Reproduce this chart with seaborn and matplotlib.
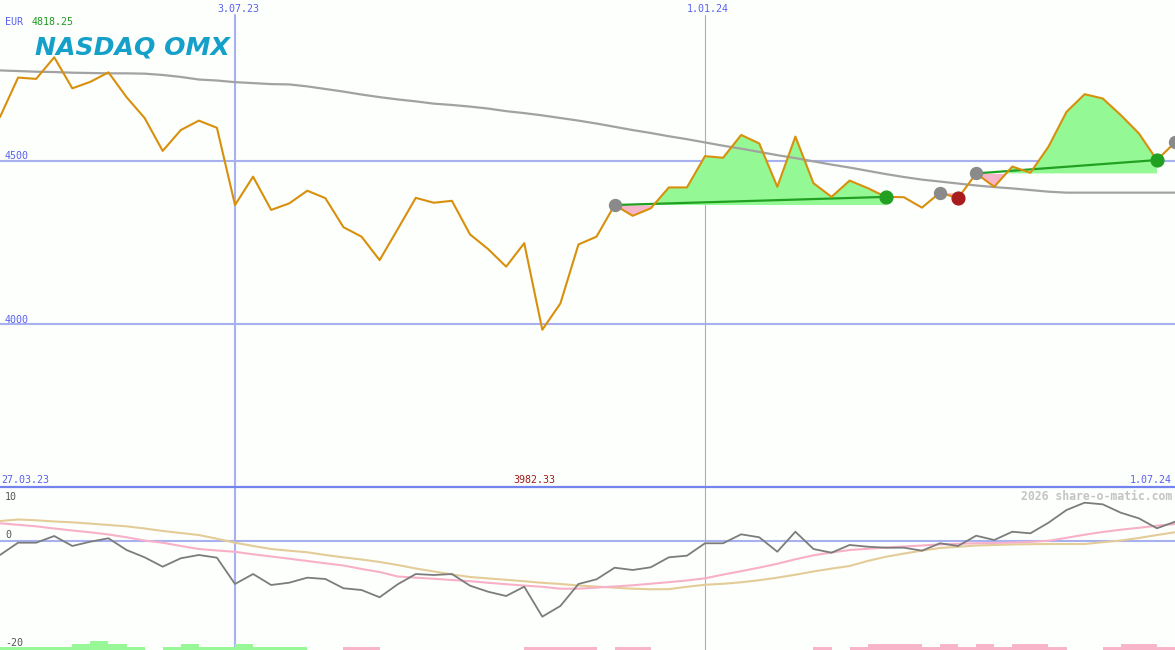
import numpy as np
import pandas as pd
import matplotlib
matplotlib.use("Agg")
import matplotlib.pyplot as plt
import seaborn as sns

# ---------------- data ----------------
weeks = pd.date_range("2023-04-03", periods=66, freq="7D")

price = [4635, 4756, 4752, 4818.25, 4723, 4743, 4772, 4696, 4632, 4531,
         4595, 4624, 4602, 4365, 4452, 4350, 4370, 4409, 4386, 4297,
         4268, 4196, 4291, 4387, 4372, 4378, 4275, 4230, 4176, 4248,
         3982.33, 4063, 4244, 4268, 4365, 4332, 4355, 4419, 4419, 4515,
         4510, 4580, 4554, 4421, 4575, 4432, 4390, 4440, 4417, 4390,
         4389, 4357, 4403, 4386, 4462, 4421, 4483, 4464, 4544, 4651,
         4705, 4692, 4641, 4585, 4503, 4557]

ma200 = [4778, 4776, 4774, 4773, 4771, 4770, 4769, 4769, 4768, 4764,
         4758, 4750, 4747, 4742, 4739, 4736, 4735, 4729, 4721, 4713,
         4704, 4696, 4689, 4683, 4676, 4672, 4667, 4661, 4653, 4647,
         4640, 4632, 4624, 4615, 4605, 4595, 4586, 4576, 4567, 4557,
         4547, 4538, 4528, 4518, 4509, 4499, 4489, 4480, 4470, 4460,
         4451, 4443, 4437, 4431, 4425, 4420, 4416, 4411, 4406, 4403,
         4403, 4403, 4403, 4403, 4403, 4403]

macd = [-2.64, -0.32, -0.32, 0.94, -0.94, -0.13, 0.51, -1.70, -3.08, -4.85,
        -3.26, -2.64, -3.15, -8.11, -6.23, -8.30, -7.87, -6.92, -7.17, -8.92,
        -9.25, -10.62, -8.17, -6.23, -6.42, -6.23, -8.43, -9.57, -10.38, -8.62,
        -14.28, -12.26, -8.11, -7.23, -5.04, -5.47, -4.96, -3.08, -2.77, -0.43,
        -0.43, 1.26, 0.70, -2.02, 1.75, -1.51, -2.21, -0.75, -1.08, -1.26,
        -1.26, -1.83, -0.43, -0.94, 1.00, 0.19, 1.75, 1.45, 3.45, 5.85,
        7.23, 6.92, 5.34, 4.28, 2.40, 3.64]

signal = [3.34, 3.06, 2.77, 2.36, 1.98, 1.64, 1.23, 0.70, 0.09, -0.32,
          -0.94, -1.51, -1.79, -2.04, -2.51, -2.92, -3.34, -3.77, -4.21, -4.62,
          -5.28, -5.85, -6.70, -6.92, -7.13, -7.36, -7.58, -7.89, -8.15, -8.42,
          -8.64, -9.00, -9.00, -8.79, -8.58, -8.36, -8.06, -7.77, -7.45, -7.04,
          -6.34, -5.70, -5.02, -4.30, -3.45, -2.70, -2.17, -1.70, -1.47, -1.25,
          -1.04, -0.85, -0.64, -0.53, -0.43, -0.38, -0.30, -0.17, 0.04, 0.60,
          1.19, 1.70, 2.13, 2.49, 2.89, 3.21]

slow = [3.77, 4.06, 3.91, 3.68, 3.53, 3.28, 3.02, 2.77, 2.36, 1.89,
        1.51, 1.13, 0.43, -0.32, -0.94, -1.51, -1.83, -2.13, -2.64, -3.09,
        -3.49, -3.96, -4.53, -5.19, -5.75, -6.32, -6.79, -7.06, -7.32, -7.60,
        -7.89, -8.11, -8.40, -8.60, -8.81, -9.00, -9.11, -9.09, -8.64, -8.26,
        -8.08, -7.79, -7.40, -6.92, -6.36, -5.75, -5.21, -4.72, -3.77, -2.98,
        -2.38, -1.81, -1.32, -1.09, -0.85, -0.75, -0.66, -0.60, -0.57, -0.57,
        -0.57, -0.23, 0.09, 0.57, 1.13, 1.64]

hist = [0.57, 0.57, 0.57, 0.57, 1.13, 1.70, 1.13, 0.57, 0, 0.57,
        1.13, 0.57, 0.57, 1.13, 0.57, 0.57, 0.57, 0, 0, -0.57,
        -0.57, 0, 0, 0, 0, 0, 0, 0, 0, -0.57,
        -0.57, -0.57, -0.57, 0, -0.57, -0.57, 0, 0, 0, 0,
        0, 0, 0, 0, 0, -0.57, 0, -0.57, -1.13, -1.13,
        -1.13, -0.57, -1.13, -0.57, -1.13, -0.57, -1.13, -1.13, -0.57, 0,
        0, -0.57, -1.13, -1.13, -0.57, 0]

grid_dates = ["2023-07-03", "2024-01-01"]
grid_labels = ["3.07.23", "1.01.24"]
price_grid = [4500, 4000]
price_grid_labels = ["4500", "4000"]
low_labels = ["10", "0", "-20"]
start_label = "27.03.23"
end_label = "1.07.24"
min_label = "3982.33"
currency_label = "EUR"
value_label = "4818.25"
credit_label = "2026 share-o-matic.com"
logo_label = "NASDAQ OMX"

signal_entries = [34, 54]
signal_exits = [49, 64]
failed_signal = [52, 53]
gray_marks = [34, 52, 54, 65]
green_marks = [49, 64]
red_marks = [53]

# ---------------- style ----------------
sns.set_theme(style="white")
plt.rcParams["font.family"] = ["DejaVu Sans Mono", "DejaVu Sans"]

W, H = 1175, 650
BG = "#fcfffc"
GRID = "#a8b0f0"
BLUE_TXT = "#5a60ee"
ORANGE = "#d8900c"

fig = plt.figure(figsize=(W / 100, H / 100), dpi=100, facecolor=BG)
ax = fig.add_axes([0, 163 / H, 1, 487 / H])
axl = fig.add_axes([0, 0, 1, 163 / H])

x0, x1 = weeks[0], weeks[0] + pd.Timedelta(days=7 * 65)
price_s = pd.Series(price, index=weeks)

for a in (ax, axl):
    a.set_facecolor(BG)
    a.set_xlim(x0, x1)
    for s in a.spines.values():
        s.set_visible(False)
    a.set_xticks([])
    a.set_yticks([])

ax.set_ylim(3500, 4994)
low_lo, low_hi = -20.57, 10.19
axl.set_ylim(low_lo, low_hi)

# ---------- upper panel ----------
for v in price_grid:
    ax.axhline(v, color=GRID, lw=1.5, zorder=0.5)
ax.axvline(pd.Timestamp(grid_dates[0]), ymax=(487 - 15) / 487, color=GRID, lw=1.5, zorder=0.5)
ax.axvline(pd.Timestamp(grid_dates[1]), ymax=(487 - 15) / 487, color="#a4aad4", lw=0.8, zorder=0.5)

# signal fills
for a_i, b_i in zip(signal_entries, signal_exits):
    xs = weeks[a_i:b_i + 1]
    ys = np.array(price[a_i:b_i + 1], dtype=float)
    base = price[a_i]
    ax.fill_between(xs, ys, base, where=ys >= base, interpolate=True,
                    color="#94f894", lw=0, zorder=1)
    ax.fill_between(xs, ys, base, where=ys <= base, interpolate=True,
                    color="#f8b4c8", lw=0, zorder=1)
fa, fb = failed_signal
xs = weeks[fa:fb + 1]
ys = np.array(price[fa:fb + 1], dtype=float)
ax.fill_between(xs, ys, price[fa], color="#f8b4c8", lw=0, zorder=1)

sns.lineplot(x=weeks, y=ma200, ax=ax, color="#a2a2a2", lw=1.6, zorder=2)

for a_i, b_i in zip(signal_entries, signal_exits):
    sns.lineplot(x=[weeks[a_i], weeks[b_i]], y=[price[a_i], price[b_i]], ax=ax,
                 color="#22a022", lw=1.6, zorder=3)

sns.lineplot(x=weeks, y=price, ax=ax, color=ORANGE, lw=1.5, zorder=4)

ax.plot(weeks[gray_marks], price_s.iloc[gray_marks], "o", ms=8.6, color="#8a8a8a",
        mec="#8a8a8a", zorder=5, clip_on=False)
ax.plot(weeks[green_marks], price_s.iloc[green_marks], "o", ms=9.2, color="#22a022",
        mec="#22a022", zorder=5)
ax.plot(weeks[red_marks], price_s.iloc[red_marks], "o", ms=9.2, color="#a81c1c",
        mec="#a81c1c", zorder=5)
ax.set_xlim(x0, x1)
ax.set_xlabel("")
ax.set_ylabel("")

# ---------- lower panel ----------
axl.axhline(0, color=GRID, lw=1.5, zorder=0.5)
axl.axvline(pd.Timestamp(grid_dates[0]), color=GRID, lw=1.5, zorder=0.5)
axl.axvline(pd.Timestamp(grid_dates[1]), color="#a4aad4", lw=0.8, zorder=0.5)
axl.axhline(low_hi, color="#7484ee", lw=1.6, zorder=6, clip_on=False)

hist_a = np.array(hist)
bar_cols = ["#98f898" if h > 0 else "#f8b4c8" for h in hist_a]
axl.bar(weeks, np.abs(hist_a), width=7, bottom=low_lo, align="edge",
        color=bar_cols, lw=0, zorder=1)

sns.lineplot(x=weeks, y=slow, ax=axl, color="#e4cc98", lw=1.5, zorder=2)
sns.lineplot(x=weeks, y=signal, ax=axl, color="#f8b0c8", lw=1.5, zorder=3)
sns.lineplot(x=weeks, y=macd, ax=axl, color="#7c7c7c", lw=1.3, zorder=4)
axl.set_xlim(x0, x1)
axl.set_ylim(low_lo, low_hi)
axl.set_xlabel("")
axl.set_ylabel("")

# ---------- texts ----------
def fx(px):
    return px / W


def fy(py):
    return 1 - py / H


FS = 7.2
for d, lab in zip(grid_dates, grid_labels):
    xp = (pd.Timestamp(d) - x0) / (x1 - x0) * W
    fig.text(fx(xp + 3), fy(12.5), lab, color=BLUE_TXT, fontsize=FS, ha="center", va="baseline")

fig.text(fx(5), fy(25), currency_label, color=BLUE_TXT, fontsize=FS, va="baseline")
fig.text(fx(31.5), fy(25), value_label, color="#1e9a1e", fontsize=FS, va="baseline")
fig.text(fx(35), fy(54.5), logo_label, color="#14a0c8", fontsize=18.1, fontweight="bold",
         fontstyle="italic", family="DejaVu Sans", va="baseline")

for lab, yb in zip(price_grid_labels, [159, 322.7]):
    fig.text(fx(5), fy(yb), lab, color=BLUE_TXT, fontsize=FS, va="baseline")

fig.text(fx(1.5), fy(482.7), start_label, color=BLUE_TXT, fontsize=FS, va="baseline")
fig.text(fx(534), fy(482.7), min_label, color="#a01a1a", fontsize=FS, ha="center", va="baseline")
fig.text(fx(1172), fy(482.7), end_label, color=BLUE_TXT, fontsize=FS, ha="right", va="baseline")

for lab, yb in zip(low_labels, [500, 538.3, 646]):
    fig.text(fx(5), fy(yb), lab, color="#555555", fontsize=FS, va="baseline")

fig.text(fx(1172), fy(500), credit_label, color="#c4c4c4", fontsize=8.3, fontweight="bold",
         ha="right", va="baseline")

fig.savefig("out.png", dpi=100, facecolor=BG)
